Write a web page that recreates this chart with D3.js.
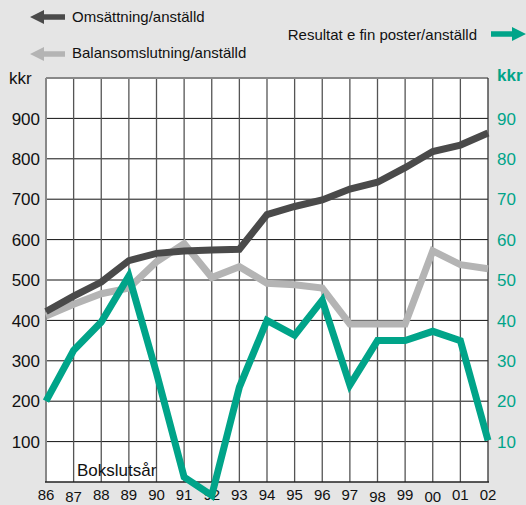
<!DOCTYPE html>
<html>
<head>
<meta charset="utf-8">
<script src="https://d3js.org/d3.v7.min.js"></script>
<style>
  body { margin: 0; background: #e5e5e5; }
  svg { display: block; font-family: "Liberation Sans", Arial, sans-serif; }
</style>
</head>
<body>
<svg id="chart" width="526" height="505"></svg>
<script>
// chart data
const years = ["86","87","88","89","90","91","92","93","94","95","96","97","98","99","00","01","02"];
const omsattning = [422, 460, 495, 548, 566, 572, 574, 576, 662, 682, 698, 725, 742, 778, 818, 834, 864];
const balans = [411, 440, 466, 480, 545, 590, 506, 533, 492, 488, 480, 391, 391, 391, 572, 538, 528];
const resultat = [20, 32.6, 39.6, 51, 27, 1.2, -3.3, 23.5, 40, 36.3, 45, 24, 35, 35, 37.3, 35, 10.3];
const leftTicks = [100, 200, 300, 400, 500, 600, 700, 800, 900];
const rightTicks = [10, 20, 30, 40, 50, 60, 70, 80, 90];
// a few of the year labels sit slightly lower in the original
const lowLabels = ["87", "98", "00"];

const dark = "#4a4a4a", light = "#b4b4b4", teal = "#00a489";

const svg = d3.select("#chart");
const plotL = 46, plotR = 488, plotT = 78, plotB = 482;

var x = d3.scalePoint().domain(years).range([plotL, plotR]);
var y = d3.scaleLinear().domain([0, 1000]).range([plotB, plotT]);
var y2 = d3.scaleLinear().domain([0, 100]).range([plotB, plotT]);

// plot background
svg.append("rect")
  .attr("x", plotL).attr("y", plotT)
  .attr("width", plotR - plotL).attr("height", plotB - plotT)
  .attr("fill", "white");

// horizontal grid
svg.append("g").selectAll("line")
  .data(leftTicks)
  .enter().append("line")
  .attr("x1", plotL).attr("x2", plotR)
  .attr("y1", d => y(d)).attr("y2", d => y(d))
  .attr("stroke", "#111").attr("stroke-width", 1);

// vertical grid
svg.append("g").selectAll("line")
  .data(years.slice(1, -1))
  .enter().append("line")
  .attr("x1", d => x(d)).attr("x2", d => x(d))
  .attr("y1", plotT).attr("y2", plotB)
  .attr("stroke", "#555").attr("stroke-width", 1.3);

// frame
svg.append("line").attr("x1", plotL).attr("x2", plotR).attr("y1", plotT).attr("y2", plotT)
  .attr("stroke", "#888").attr("stroke-width", 2);
svg.append("line").attr("x1", plotL).attr("x2", plotL).attr("y1", plotT).attr("y2", plotB)
  .attr("stroke", "#888").attr("stroke-width", 2);
svg.append("line").attr("x1", plotR).attr("x2", plotR).attr("y1", plotT).attr("y2", plotB)
  .attr("stroke", "#333").attr("stroke-width", 1.3);
svg.append("line").attr("x1", plotL - 1).attr("x2", plotR + 1).attr("y1", plotB).attr("y2", plotB)
  .attr("stroke", "#222").attr("stroke-width", 1.6);

// left axis labels
svg.append("g").selectAll("text")
  .data(leftTicks)
  .enter().append("text")
  .attr("x", 40).attr("y", d => y(d)).attr("dy", "0.36em")
  .attr("text-anchor", "end")
  .attr("font-size", 17).attr("fill", "#111")
  .text(d => d);
svg.append("text").attr("x", 9).attr("y", 84)
  .attr("font-size", 17).attr("fill", "#111").text("kkr");

// right axis labels
svg.append("g").selectAll("text")
  .data(rightTicks)
  .enter().append("text")
  .attr("x", 497).attr("y", d => y2(d)).attr("dy", "0.36em")
  .attr("font-size", 17).attr("fill", teal)
  .text(d => d);
svg.append("text").attr("x", 497).attr("y", 81)
  .attr("font-size", 17).attr("font-weight", "bold").attr("fill", teal).text("kkr");

// year labels
svg.append("g").selectAll("text")
  .data(years)
  .enter().append("text")
  .attr("x", d => x(d))
  .attr("y", d => lowLabels.includes(d) ? 501.5 : 499.5)
  .attr("text-anchor", "middle")
  .attr("font-size", 15).attr("fill", "#111")
  .text(d => d);

svg.append("text").attr("x", 77).attr("y", 476)
  .attr("font-size", 17).attr("fill", "#111").text("Bokslutsår");

// lines
var line = d3.line().x((d, i) => x(years[i])).y(d => y(d));
var line2 = d3.line().x((d, i) => x(years[i])).y(d => y2(d));

svg.append("path").datum(balans)
  .attr("d", line).attr("fill", "none")
  .attr("stroke", light).attr("stroke-width", 7).attr("stroke-linejoin", "miter");
svg.append("path").datum(omsattning)
  .attr("d", line).attr("fill", "none")
  .attr("stroke", dark).attr("stroke-width", 7).attr("stroke-linejoin", "miter");
svg.append("path").datum(resultat)
  .attr("d", line2).attr("fill", "none")
  .attr("stroke", teal).attr("stroke-width", 7).attr("stroke-linejoin", "miter");

// legend
function arrow(x0, y0, dir, color) {
  // dir -1: points left, 1: points right; x0 = tip
  var shaft = 21, head = 14, halfH = 7, t = 2.8;
  var pts = [
    [x0, y0],
    [x0 - dir * head, y0 - halfH],
    [x0 - dir * head, y0 - t],
    [x0 - dir * (head + shaft), y0 - t],
    [x0 - dir * (head + shaft), y0 + t],
    [x0 - dir * head, y0 + t],
    [x0 - dir * head, y0 + halfH]
  ];
  svg.append("polygon").attr("points", pts.map(p => p.join(",")).join(" ")).attr("fill", color);
}
arrow(30, 17, -1, dark);
arrow(30, 54, -1, light);
arrow(526, 34, 1, teal);

svg.append("text").attr("x", 72).attr("y", 17).attr("dy", "0.36em")
  .attr("font-size", 15).attr("fill", "#111").text("Omsättning/anställd");
svg.append("text").attr("x", 72).attr("y", 53).attr("dy", "0.36em")
  .attr("font-size", 15).attr("fill", "#111").text("Balansomslutning/anställd");
svg.append("text").attr("x", 477).attr("y", 35).attr("dy", "0.36em")
  .attr("text-anchor", "end")
  .attr("font-size", 15).attr("fill", "#111").text("Resultat e fin poster/anställd");
</script>
</body>
</html>
